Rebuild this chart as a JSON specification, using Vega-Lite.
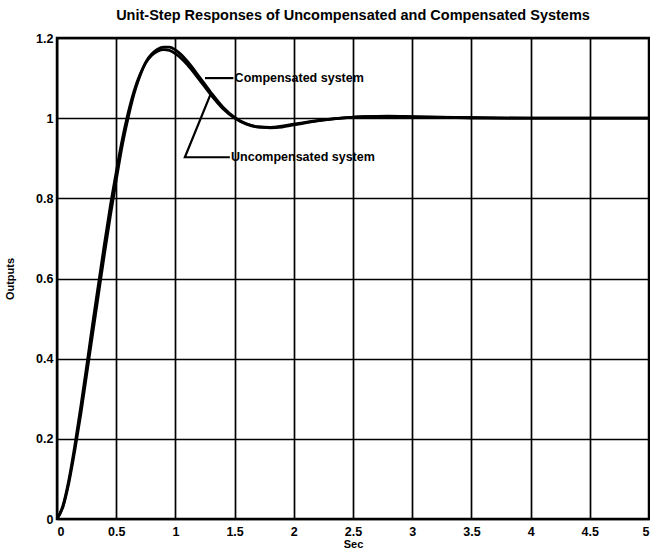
{
  "$schema": "https://vega.github.io/schema/vega-lite/v6.json",
  "autosize": "none",
  "width": 592,
  "height": 481,
  "padding": {"left": 57, "top": 38, "right": 1, "bottom": 34},
  "background": "white",
  "title": {
    "text": "Unit-Step Responses of Uncompensated and Compensated Systems",
    "font": "Liberation Sans",
    "fontSize": 14.5,
    "fontWeight": "bold",
    "color": "black",
    "offset": 9,
    "anchor": "middle"
  },
  "config": {
    "view": {"stroke": "black", "strokeWidth": 2.5},
    "axis": {
      "grid": true,
      "gridColor": "black",
      "gridOpacity": 1,
      "gridWidth": 1.7,
      "domain": false,
      "ticks": false,
      "labelFont": "Liberation Sans",
      "labelFontWeight": "bold",
      "labelFontSize": 12.5,
      "labelColor": "black",
      "titleFont": "Liberation Sans",
      "titleFontWeight": "bold",
      "titleFontSize": 11,
      "titleColor": "black"
    }
  },
  "datasets": {
    "curves": [
      {"t": 0, "y": 0, "sys": "Uncompensated"},
      {"t": 0.05, "y": 0.03, "sys": "Uncompensated"},
      {"t": 0.1, "y": 0.09, "sys": "Uncompensated"},
      {"t": 0.15, "y": 0.17, "sys": "Uncompensated"},
      {"t": 0.2, "y": 0.26, "sys": "Uncompensated"},
      {"t": 0.25, "y": 0.36, "sys": "Uncompensated"},
      {"t": 0.3, "y": 0.46, "sys": "Uncompensated"},
      {"t": 0.35, "y": 0.56, "sys": "Uncompensated"},
      {"t": 0.4, "y": 0.66, "sys": "Uncompensated"},
      {"t": 0.45, "y": 0.755, "sys": "Uncompensated"},
      {"t": 0.5, "y": 0.845, "sys": "Uncompensated"},
      {"t": 0.55, "y": 0.93, "sys": "Uncompensated"},
      {"t": 0.6, "y": 1.0, "sys": "Uncompensated"},
      {"t": 0.65, "y": 1.06, "sys": "Uncompensated"},
      {"t": 0.7, "y": 1.105, "sys": "Uncompensated"},
      {"t": 0.75, "y": 1.14, "sys": "Uncompensated"},
      {"t": 0.8, "y": 1.16, "sys": "Uncompensated"},
      {"t": 0.85, "y": 1.172, "sys": "Uncompensated"},
      {"t": 0.9, "y": 1.177, "sys": "Uncompensated"},
      {"t": 0.95, "y": 1.177, "sys": "Uncompensated"},
      {"t": 1.0, "y": 1.17, "sys": "Uncompensated"},
      {"t": 1.05, "y": 1.158, "sys": "Uncompensated"},
      {"t": 1.1, "y": 1.142, "sys": "Uncompensated"},
      {"t": 1.2, "y": 1.104, "sys": "Uncompensated"},
      {"t": 1.3, "y": 1.064, "sys": "Uncompensated"},
      {"t": 1.4, "y": 1.028, "sys": "Uncompensated"},
      {"t": 1.5, "y": 1.002, "sys": "Uncompensated"},
      {"t": 1.6, "y": 0.986, "sys": "Uncompensated"},
      {"t": 1.7, "y": 0.978, "sys": "Uncompensated"},
      {"t": 1.8, "y": 0.976, "sys": "Uncompensated"},
      {"t": 1.9, "y": 0.978, "sys": "Uncompensated"},
      {"t": 2.0, "y": 0.983, "sys": "Uncompensated"},
      {"t": 2.2, "y": 0.993, "sys": "Uncompensated"},
      {"t": 2.4, "y": 1.0, "sys": "Uncompensated"},
      {"t": 2.6, "y": 1.004, "sys": "Uncompensated"},
      {"t": 2.8, "y": 1.005, "sys": "Uncompensated"},
      {"t": 3.0, "y": 1.004, "sys": "Uncompensated"},
      {"t": 3.5, "y": 1.001, "sys": "Uncompensated"},
      {"t": 4.0, "y": 1.0, "sys": "Uncompensated"},
      {"t": 5.0, "y": 1.0, "sys": "Uncompensated"},
      {"t": 0, "y": 0, "sys": "Compensated"},
      {"t": 0.05, "y": 0.033, "sys": "Compensated"},
      {"t": 0.1, "y": 0.097, "sys": "Compensated"},
      {"t": 0.15, "y": 0.182, "sys": "Compensated"},
      {"t": 0.2, "y": 0.278, "sys": "Compensated"},
      {"t": 0.25, "y": 0.38, "sys": "Compensated"},
      {"t": 0.3, "y": 0.485, "sys": "Compensated"},
      {"t": 0.35, "y": 0.585, "sys": "Compensated"},
      {"t": 0.4, "y": 0.685, "sys": "Compensated"},
      {"t": 0.45, "y": 0.78, "sys": "Compensated"},
      {"t": 0.5, "y": 0.865, "sys": "Compensated"},
      {"t": 0.55, "y": 0.945, "sys": "Compensated"},
      {"t": 0.6, "y": 1.012, "sys": "Compensated"},
      {"t": 0.65, "y": 1.067, "sys": "Compensated"},
      {"t": 0.7, "y": 1.108, "sys": "Compensated"},
      {"t": 0.75, "y": 1.138, "sys": "Compensated"},
      {"t": 0.8, "y": 1.157, "sys": "Compensated"},
      {"t": 0.85, "y": 1.167, "sys": "Compensated"},
      {"t": 0.9, "y": 1.171, "sys": "Compensated"},
      {"t": 0.95, "y": 1.169, "sys": "Compensated"},
      {"t": 1.0, "y": 1.161, "sys": "Compensated"},
      {"t": 1.05, "y": 1.149, "sys": "Compensated"},
      {"t": 1.1, "y": 1.134, "sys": "Compensated"},
      {"t": 1.2, "y": 1.097, "sys": "Compensated"},
      {"t": 1.3, "y": 1.058, "sys": "Compensated"},
      {"t": 1.4, "y": 1.024, "sys": "Compensated"},
      {"t": 1.5, "y": 1.0, "sys": "Compensated"},
      {"t": 1.6, "y": 0.985, "sys": "Compensated"},
      {"t": 1.7, "y": 0.978, "sys": "Compensated"},
      {"t": 1.8, "y": 0.977, "sys": "Compensated"},
      {"t": 1.9, "y": 0.98, "sys": "Compensated"},
      {"t": 2.0, "y": 0.985, "sys": "Compensated"},
      {"t": 2.2, "y": 0.994, "sys": "Compensated"},
      {"t": 2.4, "y": 1.0, "sys": "Compensated"},
      {"t": 2.6, "y": 1.004, "sys": "Compensated"},
      {"t": 2.8, "y": 1.004, "sys": "Compensated"},
      {"t": 3.0, "y": 1.003, "sys": "Compensated"},
      {"t": 3.5, "y": 1.001, "sys": "Compensated"},
      {"t": 4.0, "y": 1.0, "sys": "Compensated"},
      {"t": 5.0, "y": 1.0, "sys": "Compensated"}
    ],
    "pointers": [
      {"t": 1.25, "y": 1.1, "id": "C", "k": 0},
      {"t": 1.49, "y": 1.1, "id": "C", "k": 1},
      {"t": 1.3, "y": 1.062, "id": "U", "k": 0},
      {"t": 1.08, "y": 0.9025, "id": "U", "k": 1},
      {"t": 1.46, "y": 0.9025, "id": "U", "k": 2}
    ],
    "labels": [
      {"t": 1.5, "y": 1.1, "label": "Compensated system"},
      {"t": 1.47, "y": 0.9025, "label": "Uncompensated system"}
    ]
  },
  "layer": [
    {
      "data": {"name": "curves"},
      "mark": {"type": "line", "color": "black", "strokeWidth": 2.8, "interpolate": "monotone"},
      "encoding": {
        "x": {
          "field": "t", "type": "quantitative",
          "scale": {"domain": [0, 5], "nice": false},
          "axis": {"values": [0, 0.5, 1, 1.5, 2, 2.5, 3, 3.5, 4, 4.5, 5], "format": "~g", "title": "Sec", "labelPadding": 6, "titlePadding": 1}
        },
        "y": {
          "field": "y", "type": "quantitative",
          "scale": {"domain": [0, 1.2], "nice": false},
          "axis": {"values": [0, 0.2, 0.4, 0.6, 0.8, 1, 1.2], "format": "~g", "title": "Outputs", "labelPadding": 4, "titleX": -42}
        },
        "detail": {"field": "sys", "type": "nominal"}
      }
    },
    {
      "data": {"name": "pointers"},
      "mark": {"type": "line", "color": "black", "strokeWidth": 2.2},
      "encoding": {
        "x": {"field": "t", "type": "quantitative"},
        "y": {"field": "y", "type": "quantitative"},
        "detail": {"field": "id", "type": "nominal"},
        "order": {"field": "k", "type": "quantitative"}
      }
    },
    {
      "data": {"name": "labels"},
      "mark": {"type": "text", "align": "left", "baseline": "middle", "font": "Liberation Sans", "fontWeight": "bold", "fontSize": 12.5, "color": "black"},
      "encoding": {
        "x": {"field": "t", "type": "quantitative"},
        "y": {"field": "y", "type": "quantitative"},
        "text": {"field": "label", "type": "nominal"}
      }
    }
  ]
}
